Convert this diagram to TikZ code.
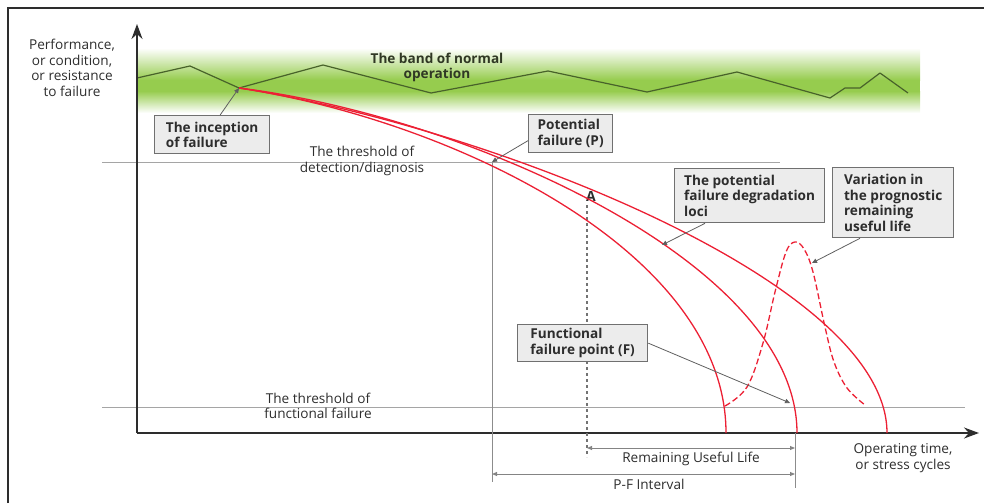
\documentclass[tikz,border=0pt]{standalone}
\usepackage{fontspec}
\setmainfont{Open Sans}
\usetikzlibrary{arrows.meta,calc}
\definecolor{bandgreen}{RGB}{150,204,78}
\definecolor{zig}{RGB}{72,98,42}
\definecolor{redc}{RGB}{236,32,52}
\definecolor{boxfill}{RGB}{236,236,236}
\definecolor{boxdraw}{RGB}{112,112,112}
\definecolor{thr}{RGB}{165,165,165}
\definecolor{axisc}{RGB}{45,45,45}
\definecolor{txt}{RGB}{45,45,45}
\definecolor{bandtxt}{RGB}{48,56,36}
\begin{document}
\begin{tikzpicture}[x=1pt,y=-1pt,
  lbl/.style={font=\fontsize{13.6}{15.5}\selectfont, text=txt, align=center, inner sep=0pt},
  callout/.style={draw=boxdraw, line width=1.3pt, fill=boxfill, font=\fontsize{13.6}{15.5}\selectfont\bfseries, text=txt, align=left, inner sep=0pt, anchor=north west},
  conn/.style={draw=boxdraw!85!black, line width=0.8pt, -{Triangle[length=5pt,width=4.5pt]}},
  dim/.style={draw=thr!80!black, line width=0.9pt, {Triangle[length=5pt,width=4pt]}-{Triangle[length=5pt,width=4pt]}},
  axisline/.style={draw=axisc, line width=1.5pt, -{Stealth[length=15pt,width=11pt]}},
  thrline/.style={draw=thr, line width=1pt},
  degr/.style={draw=redc, line width=1.3pt},
  zigline/.style={draw=zig, line width=1.2pt, line join=round}
]
\useasboundingbox (0,0) rectangle (984,503);
% outer frame
\draw[axisc, line width=1.4pt] (8,503) -- (8,8) -- (984,8);
% green band
\shade[top color=white, bottom color=bandgreen] (137,48) rectangle (920,80);
\fill[bandgreen] (137,79.5) rectangle (920,91.5);
\shade[top color=bandgreen, bottom color=white] (137,91) rectangle (920,113);
% zigzag
\draw[zigline] (137,78) -- (190,66) -- (239,88) -- (323,65) -- (431,93) -- (548,71) -- (647,92) -- (737,72) -- (830,98) -- (845,88) -- (860,88) -- (880,73) -- (908,93);
% thresholds
\coordinate (dL) at (102,162); \coordinate (dR) at (780,162);
\coordinate (fL) at (102,407); \coordinate (fR) at (965,407);
\draw[thrline] (dL) -- (dR);
\draw[thrline] (fL) -- (fR);
% axes
\coordinate (O) at (137,433); \coordinate (Ytop) at (137,24); \coordinate (Xend) at (979,433);
\draw[axisline] (O) -- (Ytop);
\draw[axisline] (O) -- (Xend);
% vertical markers
\coordinate (pP) at (492,162); \coordinate (pB) at (492,482);
\coordinate (fT) at (795,433); \coordinate (fB) at (795,488);
\draw[draw=thr!85!black, line width=1pt] (pP) -- (pB);
\draw[draw=thr!85!black, line width=1pt] (fT) -- (fB);
\coordinate (aT) at (587,205); \coordinate (aB) at (587,457);
\draw[draw=black!55, line width=1.3pt, dash pattern=on 3pt off 3pt] (aT) -- (aB);
\node[font=\fontsize{14}{15}\selectfont\bfseries, text=txt] (A) at (591,196) {A};
% degradation curves
\coordinate (inc) at (239,88);
\coordinate (e1) at (726,433); \coordinate (e2) at (797,433); \coordinate (e3) at (887,433);
\draw[degr] (inc) .. controls (450,120) and (726,250) .. (e1);
\draw[degr] (inc) .. controls (460,115) and (797,260) .. (e2);
\draw[degr] (inc) .. controls (480,125) and (887,280) .. (e3);
% distribution
\draw[degr, dash pattern=on 6pt off 3pt] plot[smooth, tension=0.6] coordinates {(725,406) (747,387) (763,343) (775,292) (786,252) (795,242) (804,249) (813,272) (825,327) (834,362) (847,388) (865,405)};
% dimension arrows
\coordinate (r1) at (587,448); \coordinate (r2) at (795,448);
\coordinate (p1) at (492,474); \coordinate (p2) at (795,474);
\draw[dim] (r1) -- (r2);
\draw[dim] (p1) -- (p2);
\node[lbl] (rul) at (691,459) {Remaining Useful Life};
\node[lbl] (pfi) at (649,484) {P-F Interval};
% labels
\node[lbl] (perf) at (72,68) {Performance,\\or condition,\\or resistance\\to failure};
\node[lbl, font=\fontsize{13.6}{15.5}\selectfont\bfseries, text=bandtxt] (band) at (437,67.5) {The band of normal\\operation};
\node[lbl] (det) at (362,161) {The threshold of\\detection/diagnosis};
\node[lbl] (ff) at (318,406) {The threshold of\\functional failure};
\node[lbl] (op) at (903,458) {Operating time,\\or stress cycles};
% callouts
\node[callout, minimum width=115pt, minimum height=38pt] (b1) at (154,115) {The inception\\of failure};
\node[callout, minimum width=84pt, minimum height=38pt] (b2) at (528,114) {Potential\\failure (P)};
\node[callout, minimum width=150pt, minimum height=54pt] (b3) at (674,168) {The potential\\failure degradation\\loci};
\node[callout, minimum width=121pt, minimum height=70pt] (b4) at (832,167) {Variation in\\the prognostic\\remaining\\useful life};
\node[callout, minimum width=130pt, minimum height=37pt] (b5) at (517,324) {Functional\\failure point (F)};
% connectors
\coordinate (m1) at (662,245);
\coordinate (v1) at (812,263);
\coordinate (f1) at (790,403);
\draw[conn] ($(b1.north)+(8,0)$) -- (inc);
\draw[conn] ($(b2.west)+(0,7)$) -- (pP);
\draw[conn] ($(b3.south west)+(31,0)$) -- (m1);
\draw[conn] ($(b4.south west)+(28,0)$) -- (v1);
\draw[conn] (b5.east) -- (f1);
\end{tikzpicture}
\end{document}
